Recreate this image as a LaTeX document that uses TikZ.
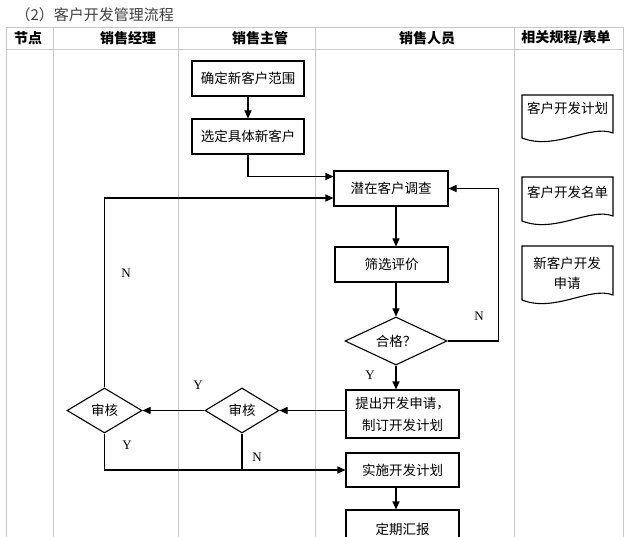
\documentclass[tikz,border=0pt]{standalone}
\usepackage{fontspec}
\newfontfamily\cjk{Noto Sans CJK SC}
\setmainfont{Liberation Serif}
\usetikzlibrary{arrows.meta,shapes.geometric}
\begin{document}
\begin{tikzpicture}[x=1pt,y=-1pt,
  gridline/.style={draw=black!22,line width=0.7pt},
  box/.style={draw,line width=1.1pt,minimum width=113pt,minimum height=35pt,inner sep=0pt,
     font=\cjk\fontsize{13.5}{22}\selectfont,align=center},
  dia/.style={diamond,draw,line width=1.1pt,inner sep=0pt,shape aspect=2,
     font=\cjk\fontsize{13.5}{16}\selectfont},
  flow/.style={line width=1.1pt,-{Triangle[length=8pt,width=7pt]}},
  plain/.style={line width=1.1pt},
  hdr/.style={font=\cjk\bfseries\fontsize{14}{16}\selectfont},
  yn/.style={font=\fontsize{13}{15}\selectfont},
  docline/.style={draw,line width=1.1pt},
  doctext/.style={font=\cjk\fontsize{13.5}{20}\selectfont,align=center}]
\useasboundingbox (0,0) rectangle (640,537);
\clip (0,0) rectangle (640,537);
\fill[white] (0,0) rectangle (640,537);
% title
\node[anchor=west,text=black!75,font=\cjk\fontsize{15}{17}\selectfont] (title) at (12,15) {（2）客户开发管理流程};
% grid
\draw[gridline] (6,27) -- (623,27);
\draw[gridline] (6,49) -- (623,49);
\foreach \x in {6,53,178,315,514,623} \draw[gridline] (\x,27) -- (\x,537);
% headers
\node[hdr] (h1) at (28,38) {节点};
\node[hdr] (h2) at (128,38) {销售经理};
\node[hdr] (h3) at (260,38) {销售主管};
\node[hdr] (h4) at (427,38) {销售人员};
\node[hdr] (h5) at (566,38) {相关规程/表单};
% boxes
\node[box,minimum width=112pt] (r1) at (248,78.5) {确定新客户范围};
\node[box,minimum width=112pt] (r2) at (248,136.5) {选定具体新客户};
\node[box,minimum width=114pt] (r3) at (391,188.5) {潜在客户调查};
\node[box] (r4) at (391.5,264.5) {筛选评价};
\node[dia,minimum width=102pt,minimum height=48pt] (d1) at (396,341) {合格？};
\node[box,minimum height=48pt] (r5) at (402.5,414) {提出开发申请，\\制订开发计划};
\node[box,minimum height=34pt] (r6) at (402.5,470) {实施开发计划};
\node[box,minimum height=38pt] (r7) at (402.5,529) {定期汇报};
\node[dia,minimum width=75pt,minimum height=45pt] (a1) at (104.5,410.5) {审核};
\node[dia,minimum width=74pt,minimum height=45pt] (a2) at (242,410.5) {审核};
% documents
\foreach \t/\b in {95/138,177/221,246/300}
  \draw[docline] (522,\t) -- (613,\t) -- (613,\b-5) .. controls +(-23,-9) and +(33,13) .. (522,\b) -- cycle;
\node[doctext] (f1) at (567.5,108) {客户开发计划};
\node[doctext] (f2) at (567.5,192) {客户开发名单};
\node[doctext] (f3) at (567,273) {新客户开发\\申请};
% connectors
\draw[flow] (r1.south) -- (r2.north);
\draw[flow] (r2.south) |- ([yshift=12pt]r3.west);
\draw[flow] (a1.north) |- ([yshift=-9.5pt]r3.west);
\draw[flow] (d1.east) -- ++(51,0) |- (r3.east);
\draw[flow] (r3.south -| d1.north) -- (r4.north -| d1.north);
\draw[flow] (r4.south -| d1.north) -- (d1.north);
\draw[flow] (d1.south) -- (r5.north -| d1.south);
\draw[flow] (r5.west |- a2.east) -- (a2.east);
\draw[flow] (a2.west) -- (a1.east);
\draw[flow] (a1.south) |- (r6.west);
\draw[plain] (a2.south) -- (a2.south |- r6.west);
\draw[flow] (r6.south -| d1.south) -- (r7.north -| d1.south);
% labels
\node[yn] (n1) at (126,273) {N};
\node[yn] (n2) at (479,316) {N};
\node[yn] (n3) at (257,457) {N};
\node[yn] (y1) at (370,375) {Y};
\node[yn] (y2) at (198,385) {Y};
\node[yn] (y3) at (127,445) {Y};
\end{tikzpicture}
\end{document}
